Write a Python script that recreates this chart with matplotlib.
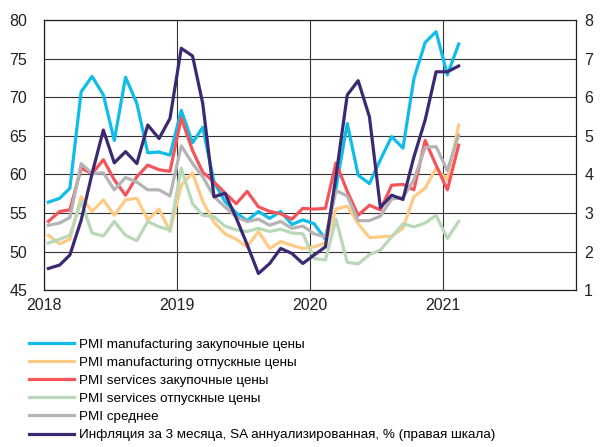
import matplotlib
matplotlib.use("Agg")
import matplotlib.pyplot as plt
import matplotlib.dates as mdates
import pandas as pd

plt.rcParams['font.family'] = ['Liberation Sans', 'DejaVu Sans']

# monthly data, Jan 2018 - Feb 2021
dates = pd.date_range('2018-01-01', periods=38, freq='MS') + pd.Timedelta(days=12)

mfg_in = [56.4, 56.9, 58.2, 70.7, 72.7, 70.3, 64.4, 72.6, 69.2, 62.8, 62.9, 62.5,
          68.3, 64.1, 66.1, 59.0, 56.5, 55.0, 54.0, 55.2, 54.3, 55.2, 53.5, 54.1,
          53.6, 51.6, 58.2, 66.6, 59.9, 58.8, 61.9, 64.9, 63.4, 72.4, 77.1, 78.5,
          72.9, 76.9]
mfg_out = [52.1, 51.0, 51.6, 57.1, 55.2, 56.7, 54.7, 56.7, 56.9, 54.1, 55.5, 52.6,
           58.6, 60.2, 56.5, 53.8, 52.3, 51.6, 50.6, 52.6, 50.4, 51.3, 50.8, 50.4,
           50.6, 51.1, 55.5, 55.9, 53.6, 51.8, 51.9, 52.0, 53.0, 57.1, 58.2, 60.8,
           59.3, 66.4]
svc_in = [53.9, 55.2, 55.4, 60.8, 60.1, 61.9, 59.3, 57.3, 59.7, 61.2, 60.6, 60.4,
          67.3, 63.1, 60.3, 59.0, 57.6, 56.2, 57.8, 55.8, 55.2, 54.9, 54.2, 55.6,
          55.5, 55.6, 61.5, 57.8, 54.7, 56.0, 55.4, 58.6, 58.7, 58.0, 64.4, 61.2,
          58.0, 63.8]
svc_out = [51.1, 51.6, 52.1, 56.5, 52.4, 52.0, 53.9, 52.1, 51.4, 53.9, 53.2, 52.8,
           60.8, 56.2, 54.7, 54.5, 53.3, 52.8, 52.6, 53.0, 52.6, 52.9, 52.4, 52.3,
           49.1, 48.9, 54.2, 48.6, 48.4, 49.6, 50.2, 51.9, 53.6, 53.2, 53.7, 54.7,
           51.7, 53.9]
pmi_avg = [53.4, 53.7, 54.4, 61.4, 60.1, 60.2, 58.0, 59.6, 59.0, 58.0, 58.0, 57.2,
           63.7, 61.4, 59.7, 57.1, 55.8, 54.5, 53.9, 54.2, 53.4, 53.9, 53.0, 53.3,
           52.3, 51.9, 57.9, 57.2, 54.0, 54.0, 54.6, 56.8, 57.0, 59.3, 63.5, 63.6,
           60.5, 65.1]
inflation = [1.56, 1.65, 1.91, 2.81, 4.02, 5.15, 4.30, 4.59, 4.28, 5.28, 4.93, 5.45,
             7.27, 7.07, 5.84, 3.42, 3.51, 2.87, 2.18, 1.43, 1.69, 2.08, 1.95, 1.69,
             1.91, 2.12, 3.95, 6.06, 6.43, 5.49, 3.14, 3.46, 3.35, 4.45, 5.41, 6.66,
             6.66, 6.81]

labels = ['PMI manufacturing закупочные цены',
          'PMI manufacturing отпускные цены',
          'PMI services закупочные цены',
          'PMI services отпускные цены',
          'PMI среднее',
          'Инфляция за 3 месяца, SA аннуализированная, % (правая шкала)']
colors = ['#0fbde8', '#ffca85', '#f4545a', '#b9d8b8', '#b4b4b4', '#3b2a72']
years = ['2018', '2019', '2020', '2021', '2022']

fig = plt.figure(figsize=(6.03, 4.47), dpi=100)
ax = fig.add_axes([0.073, 0.351, 0.882, 0.604])

lw = 2.3
handles = []
for series, col, lab in zip([mfg_in, mfg_out, svc_in, svc_out, pmi_avg], colors[:5], labels[:5]):
    h, = ax.plot(dates, series, color=col, lw=lw, label=lab)
    handles.append(h)

ax.set_ylim(45, 80)
ax.set_yticks(range(45, 81, 5))
year_ticks = [pd.Timestamp(y + '-01-01') for y in years]
ax.set_xlim(year_ticks[0], year_ticks[-1])
ax.set_xticks(year_ticks[:-1])
ax.xaxis.set_major_formatter(mdates.DateFormatter('%Y'))
ax.grid(True, color='#333333', lw=0.8)
ax.tick_params(length=0, labelsize=11.5, colors='#222222')
ax.tick_params(axis='y', pad=12)
ax.tick_params(axis='x', pad=6)
for s in ax.spines.values():
    s.set_color('#222222')
    s.set_linewidth(0.9)

ax2 = ax.twinx()
h, = ax2.plot(dates, inflation, color=colors[5], lw=lw, label=labels[5])
handles.append(h)
ax2.set_ylim(1, 8)
ax2.set_yticks(range(1, 9))
ax2.tick_params(length=0, labelsize=11.5, colors='#222222', pad=6)
for s in ax2.spines.values():
    s.set_visible(False)

fig.legend(handles, labels, loc='upper left', bbox_to_anchor=(0.048, 0.243),
           frameon=False, fontsize=9.7, handlelength=3.35, handletextpad=0.35,
           labelspacing=0.42, borderpad=0, borderaxespad=0)

fig.savefig('out.png', dpi=100)
